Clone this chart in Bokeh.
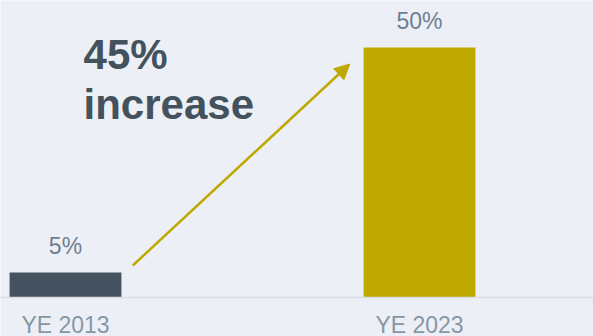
from bokeh.plotting import figure
from bokeh.models import ColumnDataSource, Range1d, Span, Arrow, NormalHead
from bokeh.core.properties import value
from bokeh.embed import file_html
from bokeh.resources import INLINE

# ---- data ----
categories = ["YE 2013", "YE 2023"]
shares = [5, 50]
value_labels = ["5%", "50%"]
headline = ["45%", "increase"]

# ---- style ----
BG = "#EDEFF6"
BAR_COLORS = ["#44535F", "#BFA800"]
HEAD_COLOR = "#44525E"
VALUE_COLOR = "#6E8090"
CAT_COLOR = "#8597A5"
FONT = "Liberation Sans"
BAR_WIDTH = 0.316
LABEL_GAP = 5.4          # gap between bar top and value label (in % units)
CAT_Y = -5.4             # category labels position (in % units)

xs = list(range(len(categories)))

p = figure(width=593, height=336, output_backend="svg", toolbar_location=None,
           x_range=Range1d(-0.1836, 1.4915), y_range=Range1d(-7.8, 59.4),
           min_border=0, outline_line_color=None)
p.background_fill_color = BG
p.border_fill_color = BG
p.axis.visible = False
p.grid.visible = False

src = ColumnDataSource(dict(x=xs, top=shares, color=BAR_COLORS,
                            vlabel=value_labels, cat=categories,
                            vy=[s + LABEL_GAP for s in shares],
                            cy=[CAT_Y] * len(categories)))

p.vbar(x="x", top="top", bottom=0, width=BAR_WIDTH, fill_color="color",
       line_color=None, source=src)

p.add_layout(Span(location=0, dimension="width", line_color="#DADDE5", line_width=1.5))

p.text(x="x", y="vy", text="vlabel", source=src, text_align="center",
       text_baseline="alphabetic", text_font=value(FONT), text_font_size="23px",
       text_color=VALUE_COLOR)
p.text(x="x", y="cy", text="cat", source=src, text_align="center",
       text_baseline="alphabetic", text_font=value(FONT), text_font_size="23px",
       text_color=CAT_COLOR)

# headline
p.text(x=[0.051, 0.051], y=[48.7, 38.6], text=headline, text_align="left",
       text_baseline="alphabetic", text_font=value(FONT), text_font_size="42px",
       text_font_style="bold", text_color=HEAD_COLOR)

# arrow
p.add_layout(Arrow(x_start=0.190, y_start=6.4, x_end=0.803, y_end=46.7,
                   line_color=BAR_COLORS[1], line_width=2.5,
                   end=NormalHead(size=15, fill_color=BAR_COLORS[1],
                                  line_color=BAR_COLORS[1])))

open("out.html", "w").write(file_html(p, INLINE))
